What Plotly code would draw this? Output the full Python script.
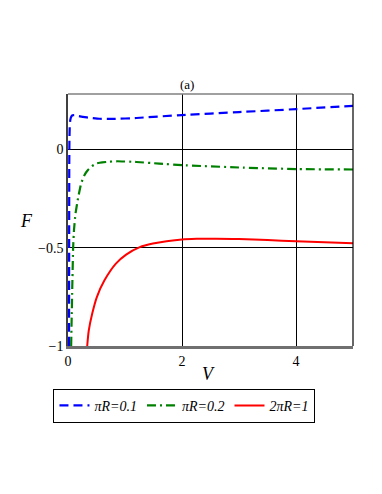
import plotly.graph_objects as go

# curve data
blue_v = [0.018, 0.020, 0.022, 0.025, 0.03, 0.04, 0.06, 0.08, 0.11, 0.16, 0.26, 0.4, 0.55, 0.8, 1.2, 2.0, 3.0, 4.0, 5.0]
blue_f = [-1.0, -0.5, -0.1, 0.05, 0.11, 0.15, 0.168, 0.174, 0.175, 0.171, 0.166, 0.160, 0.156, 0.155, 0.160, 0.175, 0.19, 0.205, 0.222]

green_v = [0.055, 0.065, 0.075, 0.09, 0.105, 0.13, 0.17, 0.23, 0.29, 0.35, 0.42, 0.5, 0.6, 0.73, 0.87, 1.2, 1.6, 2.0, 3.0, 4.0, 5.0]
green_f = [-1.0, -0.85, -0.7, -0.5, -0.41, -0.33, -0.258, -0.173, -0.13, -0.105, -0.085, -0.071, -0.066, -0.062, -0.06, -0.064, -0.072, -0.08, -0.092, -0.1, -0.102]

red_v = [0.337, 0.365, 0.425, 0.506, 0.64, 0.84, 1.02, 1.26, 1.49, 1.73, 2.0, 2.26, 2.6, 3.0, 3.5, 4.0, 4.5, 5.0]
red_f = [-1.0, -0.92, -0.835, -0.751, -0.666, -0.581, -0.535, -0.497, -0.479, -0.467, -0.458, -0.455, -0.454, -0.456, -0.461, -0.467, -0.472, -0.477]

x_ticks = [0, 2, 4]
y_ticks = [-1, -0.5, 0]
y_ticktext = ['\u22121', '\u22120.5', '0']

serif = 'Liberation Serif, Times New Roman, serif'

fig = go.Figure()

fig.add_trace(go.Scatter(
    x=blue_v, y=blue_f, mode='lines', name='<i>\u03c0R=0.1</i>',
    line=dict(color='#0000ff', width=2.2, dash='9px,5px', shape='spline', smoothing=0.3),
))
fig.add_trace(go.Scatter(
    x=green_v, y=green_f, mode='lines', name='<i>\u03c0R=0.2</i>',
    line=dict(color='#008000', width=2.2, dash='9px,4px,2px,4px', shape='spline', smoothing=0.3),
))
fig.add_trace(go.Scatter(
    x=red_v, y=red_f, mode='lines', name='<i>2\u03c0R=1</i>',
    line=dict(color='#ff0000', width=2.0, shape='spline', smoothing=0.8),
))

# the page adds an 8px body margin, so the figure is 8px smaller than the window
fig.update_layout(
    width=374, height=486,
    margin=dict(l=60, r=29, t=86, b=148, autoexpand=False),
    paper_bgcolor='white', plot_bgcolor='white',
    font=dict(family=serif, size=13, color='black'),
    showlegend=True,
    legend=dict(
        orientation='h', x=-0.051, y=-0.17, xanchor='left', yanchor='top',
        bordercolor='black', borderwidth=1, bgcolor='white',
        font=dict(family=serif, size=14, color='black'),
        itemwidth=30, tracegroupgap=0,
    ),
    xaxis=dict(
        range=[0, 5], tickvals=x_ticks, ticktext=[str(t) for t in x_ticks],
        showgrid=True, gridcolor='black', gridwidth=1,
        zeroline=False, showline=True, linecolor='#707070', linewidth=3,
        ticks='', tickfont=dict(family=serif, size=14),
    ),
    yaxis=dict(
        range=[-1, 0.282], tickvals=y_ticks, ticktext=y_ticktext,
        showgrid=True, gridcolor='black', gridwidth=1,
        zeroline=False, showline=True, linecolor='#404040', linewidth=1.5,
        ticks='', tickfont=dict(family=serif, size=14),
    ),
    shapes=[
        dict(type='line', xref='paper', yref='paper', x0=0, x1=1, y0=1, y1=1,
             line=dict(color='#808080', width=1.5)),
        dict(type='line', xref='paper', yref='paper', x0=1, x1=1, y0=0, y1=1,
             line=dict(color='black', width=1.2)),
    ],
    annotations=[
        dict(text='(a)', xref='paper', yref='paper', x=0.419, y=1.0, xanchor='center',
             yanchor='bottom', showarrow=False, font=dict(family=serif, size=13)),
        dict(text='<i>F</i>', xref='paper', yref='paper', x=-0.145, y=0.495, xanchor='center',
             yanchor='middle', showarrow=False, font=dict(family=serif, size=18)),
        dict(text='<i>V</i>', xref='paper', yref='paper', x=0.494, y=-0.11, xanchor='center',
             yanchor='middle', showarrow=False, font=dict(family=serif, size=18)),
    ],
)

fig.write_html("out.html")
